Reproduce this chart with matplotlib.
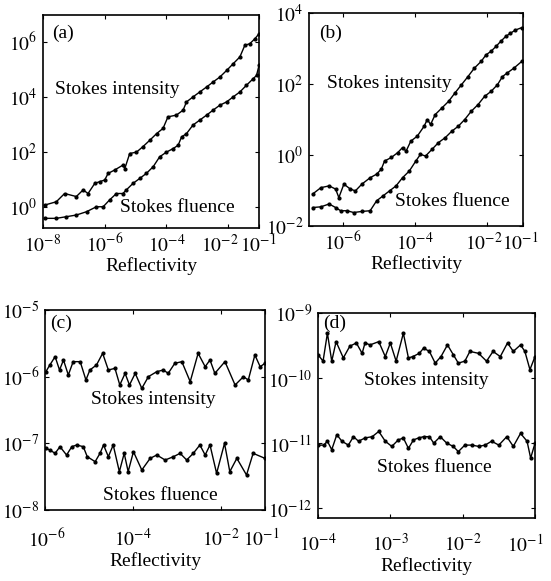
import numpy as np
import matplotlib
matplotlib.use("Agg")
import matplotlib.pyplot as plt
import matplotlib.transforms as mtransforms

plt.rcParams['font.family'] = ['Liberation Serif', 'DejaVu Serif']
plt.rcParams['mathtext.fontset'] = 'stix'

# ---- data: log10 of reflectivity (x) and of the Stokes output (y) ----
# (a)
a_int_x = [-7.95, -7.57, -7.30, -6.92, -6.70, -6.54, -6.32, -6.16, -6.0, -5.89, -5.68, -5.41,
           -5.35, -5.19, -4.97, -4.76, -4.54, -4.32, -4.11, -3.95, -3.68, -3.46, -3.35, -3.14,
           -2.92, -2.70, -2.49, -2.27, -2.05, -1.84, -1.62, -1.46, -1.30, -1.14, -1.0]
a_int_y = [0.08, 0.2, 0.5, 0.39, 0.63, 0.5, 0.87, 0.93, 0.99, 1.23, 1.35, 1.53, 1.4, 1.95, 2.0,
           2.2, 2.43, 2.67, 2.86, 3.28, 3.34, 3.52, 3.82, 4.0, 4.18, 4.36, 4.54, 4.72, 4.96, 5.2,
           5.45, 5.87, 5.93, 6.1, 6.29]
a_flu_x = [-7.95, -7.57, -7.24, -6.92, -6.59, -6.27, -6.05, -5.84, -5.62, -5.41, -5.30, -5.08,
           -4.86, -4.65, -4.43, -4.22, -4.0, -3.78, -3.62, -3.51, -3.35, -3.14, -2.92, -2.70,
           -2.49, -2.27, -2.05, -1.84, -1.62, -1.41, -1.19, -1.08, -1.0]
a_flu_y = [-0.4, -0.4, -0.34, -0.28, -0.16, 0.02, 0.02, 0.27, 0.5, 0.5, 0.63, 0.87, 1.05, 1.23,
           1.47, 1.83, 2.0, 2.13, 2.25, 2.55, 2.67, 2.98, 3.16, 3.34, 3.52, 3.7, 3.82, 4.0, 4.18,
           4.42, 4.66, 4.78, 5.14]
# (b)
b_int_x = [-6.85, -6.62, -6.39, -6.21, -6.12, -5.98, -5.80, -5.66, -5.48, -5.25, -5.07, -4.94,
           -4.85, -4.66, -4.48, -4.35, -4.25, -4.12, -3.94, -3.75, -3.66, -3.57, -3.44, -3.25,
           -3.07, -2.89, -2.71, -2.53, -2.35, -2.16, -2.03, -1.89, -1.75, -1.62, -1.48, -1.35,
           -1.21, -1.03]
b_int_y = [-1.10, -0.92, -0.87, -0.96, -1.20, -0.82, -0.96, -1.01, -0.82, -0.64, -0.54, -0.40,
           -0.17, -0.07, 0.07, 0.21, 0.11, 0.39, 0.53, 0.81, 1.0, 0.86, 1.14, 1.33, 1.51, 1.75,
           1.98, 2.21, 2.45, 2.64, 2.82, 2.92, 3.06, 3.20, 3.34, 3.43, 3.52, 3.59]
b_flu_x = [-6.85, -6.62, -6.39, -6.21, -6.07, -5.89, -5.71, -5.48, -5.25, -5.07, -4.89, -4.71,
           -4.53, -4.35, -4.16, -3.98, -3.85, -3.71, -3.53, -3.35, -3.16, -2.98, -2.80, -2.62,
           -2.44, -2.25, -2.07, -1.89, -1.71, -1.57, -1.44, -1.25, -1.03]
b_flu_y = [-1.48, -1.46, -1.38, -1.48, -1.57, -1.57, -1.62, -1.59, -1.57, -1.29, -1.15, -1.01,
           -0.87, -0.64, -0.45, -0.17, 0.02, -0.03, 0.16, 0.35, 0.49, 0.67, 0.81, 1.0, 1.23, 1.42,
           1.65, 1.79, 1.98, 2.21, 2.31, 2.45, 2.64]
# (c)
c_int_x = [-5.98, -5.89, -5.77, -5.67, -5.58, -5.47, -5.36, -5.20, -5.07, -4.98, -4.83, -4.69,
           -4.56, -4.41, -4.30, -4.18, -4.08, -3.95, -3.80, -3.65, -3.46, -3.31, -3.20, -3.05,
           -2.89, -2.70, -2.52, -2.36, -2.25, -2.14, -1.91, -1.68, -1.49, -1.38, -1.23, -1.11, -1.0]
c_int_y = [-5.925, -5.825, -5.70, -5.90, -5.75, -5.975, -5.775, -5.775, -6.05, -5.90, -5.825,
           -5.65, -5.90, -5.875, -6.125, -5.95, -6.125, -5.95, -6.175, -6.0, -5.925, -5.90, -5.95,
           -5.80, -5.775, -6.075, -5.65, -5.85, -5.75, -5.95, -5.775, -6.125, -6.0, -6.05, -5.675,
           -5.85, -5.80]
c_flu_x = [-5.98, -5.89, -5.77, -5.66, -5.51, -5.39, -5.28, -5.13, -5.04, -4.86, -4.75, -4.67,
           -4.56, -4.45, -4.31, -4.20, -4.11, -3.99, -3.80, -3.61, -3.46, -3.27, -3.08, -2.93,
           -2.78, -2.63, -2.48, -2.36, -2.25, -2.10, -1.92, -1.80, -1.64, -1.42, -1.27, -1.0]
c_flu_y = [-7.075, -7.10, -7.15, -7.05, -7.175, -7.05, -7.025, -7.05, -7.20, -7.275, -7.15,
           -7.025, -7.20, -7.025, -7.425, -7.15, -7.425, -7.125, -7.40, -7.225, -7.175, -7.25,
           -7.20, -7.15, -7.25, -7.15, -7.025, -7.175, -7.025, -7.45, -7.00, -7.425, -7.225,
           -7.475, -7.15, -7.225]
# (d)
d_int_x = [-4.0, -3.93, -3.87, -3.81, -3.75, -3.65, -3.56, -3.47, -3.39, -3.35, -3.28, -3.16,
           -3.07, -3.0, -2.92, -2.82, -2.75, -2.69, -2.60, -2.54, -2.46, -2.38, -2.30, -2.21,
           -2.13, -2.06, -1.97, -1.90, -1.78, -1.67, -1.58, -1.48, -1.38, -1.30, -1.20, -1.14,
           -1.07, -1.0]
d_int_y = [-9.64, -9.74, -9.31, -9.74, -9.44, -9.69, -9.51, -9.46, -9.62, -9.46, -9.49, -9.44,
           -9.67, -9.46, -9.74, -9.31, -9.69, -9.67, -9.62, -9.54, -9.59, -9.77, -9.67, -9.49,
           -9.64, -9.77, -9.74, -9.59, -9.62, -9.74, -9.59, -9.67, -9.46, -9.59, -9.49, -9.59,
           -9.87, -9.67]
d_flu_x = [-4.0, -3.92, -3.87, -3.81, -3.74, -3.67, -3.58, -3.51, -3.44, -3.35, -3.25, -3.16,
           -3.07, -2.98, -2.89, -2.82, -2.75, -2.68, -2.61, -2.54, -2.46, -2.40, -2.31, -2.22,
           -2.13, -2.06, -1.97, -1.87, -1.78, -1.69, -1.60, -1.50, -1.39, -1.30, -1.20, -1.11,
           -1.06, -1.0]
d_flu_y = [-11.03, -11.03, -10.97, -11.10, -10.87, -10.97, -11.03, -10.90, -10.97, -10.92,
           -10.90, -10.82, -10.97, -11.05, -10.95, -10.92, -11.08, -10.95, -10.92, -10.90, -10.90,
           -11.0, -10.90, -11.0, -11.05, -11.13, -11.03, -11.03, -11.05, -11.03, -10.97, -11.03,
           -10.90, -11.05, -10.85, -10.97, -11.23, -11.0]

# tick exponents
a_xt = [-8, -6, -4, -2, -1]; a_yt = [0, 2, 4, 6]
b_xt = [-6, -4, -2, -1];     b_yt = [-2, 0, 2, 4]
c_xt = [-6, -4, -2, -1];     c_yt = [-8, -7, -6, -5]
d_xt = [-4, -3, -2, -1];     d_yt = [-12, -11, -10, -9]

W, H = 551, 581
fig = plt.figure(figsize=(W/100, H/100), dpi=100)

def box(l, r, t, b):
    return [l/W, 1 - b/H, (r - l)/W, (b - t)/H]

panels = [
    # rect, xlim(exp), ylim(exp), data, ticks, letter, text positions, xtick pad, label shifts(px)
    (box(43, 259, 15, 228), (-8, -1), (-0.75, 6.97), (a_int_x, a_int_y, a_flu_x, a_flu_y),
     a_xt, a_yt, '(a)', (0.04, 0.915), (0.056, 0.65), (0.356, 0.094), 4, [0, 0, 0, -8, -1]),
    (box(309, 523, 13, 226), (-6.95, -1), (-2.0, 4.0), (b_int_x, b_int_y, b_flu_x, b_flu_y),
     b_xt, b_yt, '(b)', (0.047, 0.906), (0.084, 0.67), (0.40, 0.113), 4, [0, 0, -3, -3]),
    (box(45, 265, 310, 510), (-6, -1), (-8, -5), (c_int_x, c_int_y, c_flu_x, c_flu_y),
     c_xt, c_yt, '(c)', (0.023, 0.935), (0.21, 0.55), (0.265, 0.075), 13, [2, 0, 0, -4]),
    (box(318, 535, 313, 518), (-4, -1), (-12.15, -9), (d_int_x, d_int_y, d_flu_x, d_flu_y),
     d_xt, d_yt, '(d)', (0.025, 0.95), (0.21, 0.67), (0.27, 0.245), 11, [0, 0, 0, -10]),
]

for (rect, xl, yl, dat, xt, yt, letter, p_let, p_int, p_flu,
     xpad, shifts) in panels:
    ax = fig.add_axes(rect)
    ix, iy, fx, fy = [10.0**np.array(v) for v in dat]
    ax.plot(ix, iy, '-', color='k', lw=1.0, marker='.', ms=4)
    ax.plot(fx, fy, '-', color='k', lw=1.0, marker='.', ms=4)
    ax.set_xscale('log')
    ax.set_yscale('log')
    ax.set_xlim(10.0**xl[0], 10.0**xl[1])
    ax.set_ylim(10.0**yl[0], 10.0**yl[1])
    ax.set_xticks([10.0**e for e in xt])
    ax.set_xticklabels(['$10^{%d}$' % e for e in xt])
    ax.set_yticks([10.0**e for e in yt])
    ax.set_yticklabels(['$10^{%d}$' % e for e in yt])
    ax.minorticks_off()
    ax.tick_params(direction='in', top=True, right=True, length=3, labelsize=14, pad=4)
    ax.tick_params(axis='x', pad=xpad)
    for lab, dx in zip(ax.get_xticklabels(), shifts):
        off = mtransforms.ScaledTranslation(dx/100, 0, fig.dpi_scale_trans)
        lab.set_transform(lab.get_transform() + off)
    for s in ax.spines.values():
        s.set_linewidth(1.2)
    ax.set_xlabel('Reflectivity', fontsize=14, labelpad=1)
    ax.text(*p_let, letter, transform=ax.transAxes, fontsize=14, va='center')
    ax.text(*p_int, 'Stokes intensity', transform=ax.transAxes, fontsize=14, va='center')
    ax.text(*p_flu, 'Stokes fluence', transform=ax.transAxes, fontsize=14, va='center')

fig.savefig('out.png', dpi=100)
